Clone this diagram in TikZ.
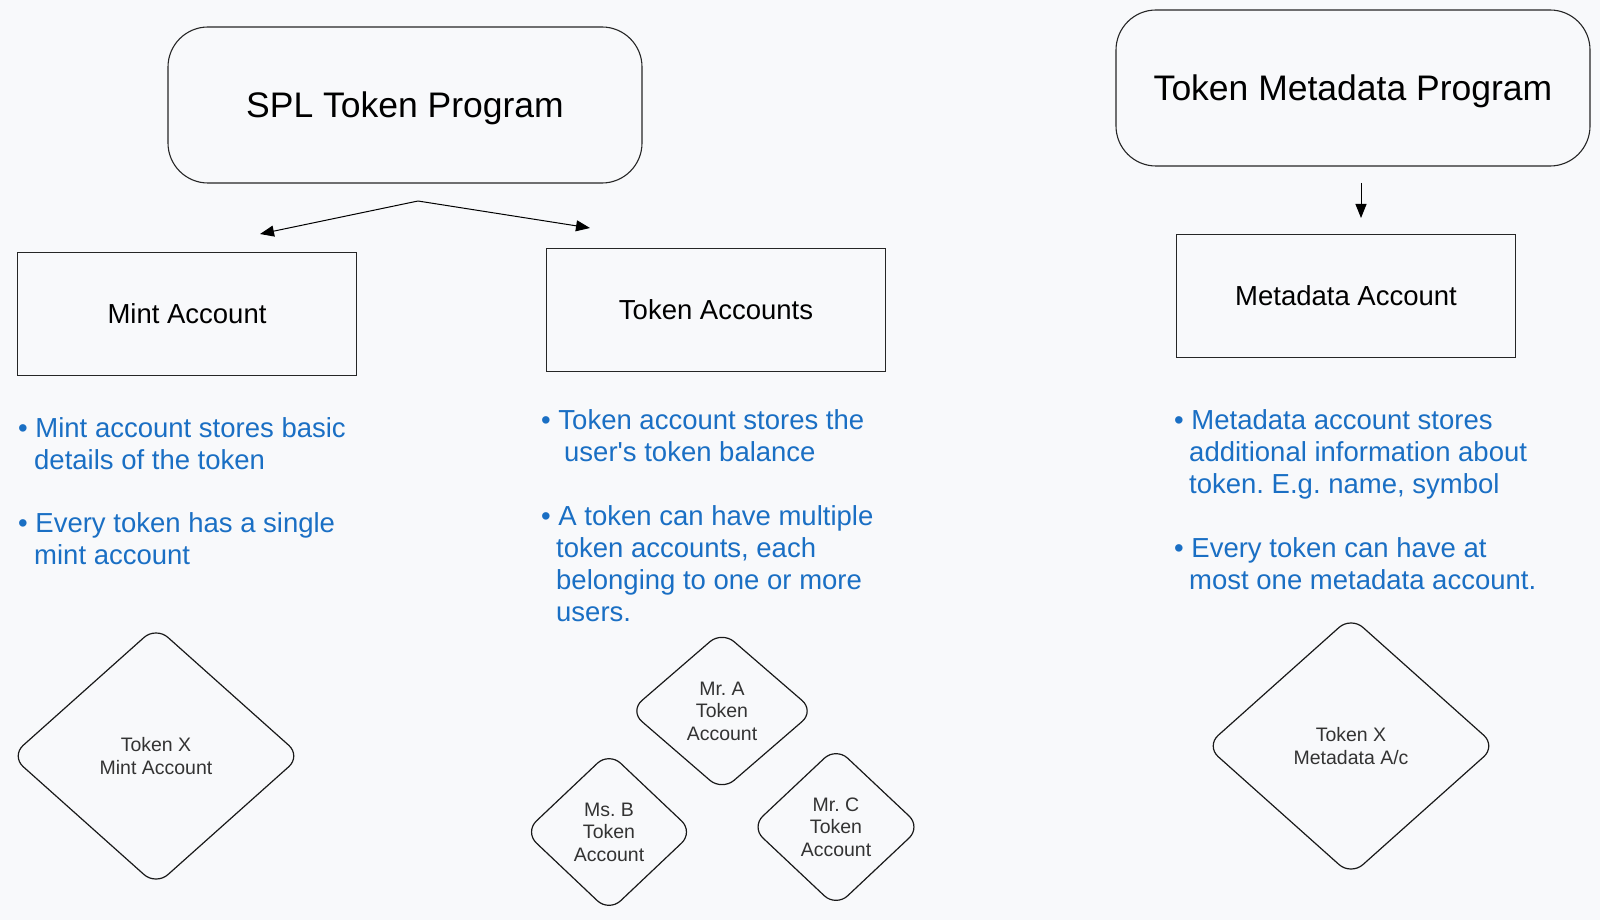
\documentclass[tikz,border=0pt]{standalone}
\usepackage{fontspec}
\setmainfont{Liberation Sans}
\usetikzlibrary{shapes.geometric,arrows.meta}
\frenchspacing

\definecolor{bgcol}{HTML}{F8F9FB}
\definecolor{notecol}{HTML}{1A6FC4}
\definecolor{holdcol}{HTML}{333333}

\tikzset{
	prog/.style={draw=black!85, line width=1.1, rounded corners=40, minimum width=474, minimum height=156, font=\fontsize{35.5}{42}\selectfont},
	acct/.style={draw=black!85, line width=1.1, minimum width=339, minimum height=123, font=\fontsize{27.5}{33}\selectfont},
	note/.style={text=notecol, anchor=north west, align=left, inner sep=0, font=\fontsize{27.5}{32}\selectfont},
	holder/.style={diamond, draw=black!90, line width=1.2, rounded corners=16, align=center, inner sep=0, text=holdcol, font=\fontsize{19.5}{22.5}\selectfont},
	link/.style={line width=1, -{Triangle[length=14,width=11]}}
}

\begin{document}
\begin{tikzpicture}[x=1pt,y=-1pt]
%background and page size
\fill[bgcol] (0,0) rectangle (1600,920);
\useasboundingbox (0,0) rectangle (1600,920);

%program boxes
\node[prog] (spl) at (405,105) {\raisebox{-3pt}[\height][\depth]{SPL Token Program}};
\node[prog] (meta) at (1353,88) {\raisebox{-3pt}[\height][\depth]{Token Metadata Program}};

%account boxes
\node[acct] (mint) at (187,314) {Mint Account};
\node[acct] (tokacc) at (716,310) {Token Accounts};
\node[acct] (metaacc) at (1346,296) {Metadata Account};

%arrows
\coordinate (fork) at (418,201);
\coordinate (mintin) at (260,234);
\coordinate (tokin) at (590,228);
\coordinate (metaout) at (1361,183);
\coordinate (metain) at (1361,218);
\draw[link] (fork) -- (mintin);
\draw[link] (fork) -- (tokin);
\draw[link] (metaout) -- (metain);

%notes under the mint account
\node[note] (mintnoteA) at (18,417) {\textbullet\ Mint account stores basic\\\hspace*{16pt}details of the token};
\node[note] (mintnoteB) at (18,512) {\textbullet\ Every token has a single\\\hspace*{16pt}mint account};

%notes under the token accounts
\node[note] (toknoteA) at (541,409) {\textbullet\ Token account stores the\\\hspace*{23pt}user\textquotesingle s token balance};
\node[note] (toknoteB) at (541,505) {\textbullet\ A token can have multiple\\\hspace*{15pt}token accounts, each\\\hspace*{15pt}belonging to one or more\\\hspace*{15pt}users.};

%notes under the metadata account
\node[note] (metanoteA) at (1174,409) {\textbullet\ Metadata account stores\\\hspace*{15pt}additional information about\\\hspace*{15pt}token. E.g. name, symbol};
\node[note] (metanoteB) at (1174,537) {\textbullet\ Every token can have at\\\hspace*{15pt}most one metadata account.};

%token holders
\node[holder, minimum width=290, minimum height=259] (mintx) at (156,756) {Token X\\Mint Account};
\node[holder, minimum width=290, minimum height=259] (metax) at (1351,746) {Token X\\Metadata A/c};
\foreach \n/\who/\x/\y/\w in {acctA/Mr. A/722/711/185, acctB/Ms. B/609/832/169, acctC/Mr. C/836/827/170} {
	\node[holder, minimum width=\w, minimum height=160] (\n) at (\x,\y) {\who\\Token\\Account};
}
\end{tikzpicture}
\end{document}
